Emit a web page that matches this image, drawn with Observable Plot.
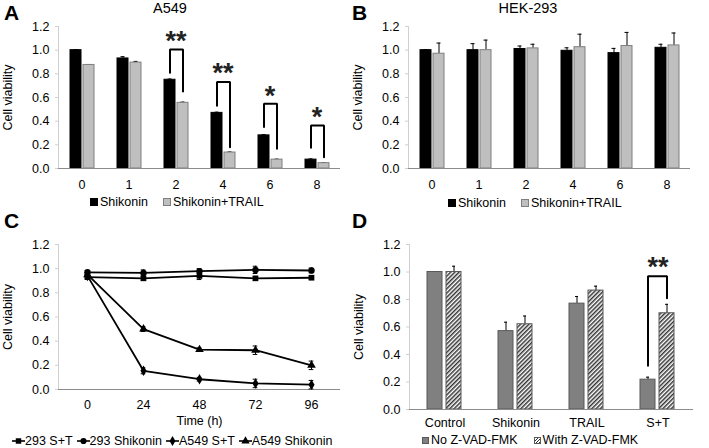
<!DOCTYPE html>
<html><head><meta charset="utf-8">
<script src="https://cdn.jsdelivr.net/npm/d3@7"></script>
<script src="https://cdn.jsdelivr.net/npm/@observablehq/plot@0.6"></script>
<style>
body{margin:0;background:#fff;font-family:"Liberation Sans",Arial,sans-serif;color:#000;}
#wrap{position:relative;width:709px;height:448px;overflow:hidden;background:#fff;}
.abs{position:absolute;line-height:1;white-space:nowrap;}
.letter{font-weight:bold;font-size:21px;}
.title{font-size:14.5px;}
.legend{font-size:12.5px;display:flex;align-items:center;line-height:1;}
.sw{display:inline-block;width:8px;height:8px;box-sizing:border-box;margin-right:2px;}
</style></head><body><div id="wrap"></div>
<script>
// ---------- data ----------
const yTicks = [0, 0.2, 0.4, 0.6, 0.8, 1.0, 1.2];
const doses = ["0", "1", "2", "4", "6", "8"];
const seriesAB = ["Shikonin", "Shikonin+TRAIL"];

const a549Shik = [1.00, 0.93, 0.75, 0.47, 0.28, 0.075];
const a549ShikErr = [0.004, 0.015, 0.006, 0.006, 0.006, 0.006];
const a549ST = [0.875, 0.895, 0.555, 0.135, 0.075, 0.045];
const a549STErr = [0.004, 0.01, 0.006, 0.005, 0.004, 0.004];

const sigDoses = ["2", "4", "6", "8"];
const sigLabels = ["**", "**", "*", "*"];
const sigTop = [1.005, 0.73, 0.547, 0.363];
const sigLeft = [0.81, 0.53, 0.35, 0.175];
const sigRight = [0.65, 0.18, 0.166, 0.096];
const sigStarY = [1.11, 0.835, 0.645, 0.467];

const hekShik = [1.00, 1.00, 1.01, 0.995, 0.975, 1.02];
const hekShikErr = [0.004, 0.055, 0.025, 0.025, 0.04, 0.03];
const hekST = [0.97, 1.00, 1.015, 1.025, 1.035, 1.04];
const hekSTErr = [0.09, 0.085, 0.035, 0.11, 0.115, 0.105];

const hours = [0, 24, 48, 72, 96];
const cSeries = ["293 S+T", "293 Shikonin", "A549 S+T", "A549 Shikonin"];
const cSymbols = ["square", "circle", "diamond", "triangle"];
const c293ST = [0.93, 0.92, 0.94, 0.92, 0.925];
const c293STErr = [0.015, 0.015, 0.03, 0.015, 0.015];
const c293Shik = [0.97, 0.965, 0.98, 0.99, 0.985];
const c293ShikErr = [0.015, 0.025, 0.02, 0.03, 0.02];
const cA549ST = [0.94, 0.155, 0.085, 0.05, 0.04];
const cA549STErr = [0.015, 0.025, 0.015, 0.035, 0.035];
const cA549Shik = [0.95, 0.50, 0.33, 0.325, 0.20];
const cA549ShikErr = [0.015, 0.02, 0.015, 0.035, 0.035];

const dCats = ["Control", "Shikonin", "TRAIL", "S+T"];
const dSeries = ["No Z-VAD-FMK", "With Z-VAD-FMK"];
const dNo = [1.00, 0.57, 0.77, 0.217];
const dNoErr = [0, 0.065, 0.052, 0.018];
const dWith = [1.00, 0.62, 0.865, 0.70];
const dWithErr = [0.042, 0.06, 0.032, 0.065];
const dSigCats = ["S+T"];
const dSigLabels = ["**"];
const dSigTop = [0.97];
const dSigLeft = [0.318];
const dSigRight = [0.81];
const dSigStarY = [1.065];

// ---------- helpers ----------
const wrap = document.getElementById("wrap");
function place(el, left, top) {
  const d = document.createElement("div");
  d.className = "abs"; d.style.left = left + "px"; d.style.top = top + "px";
  if (typeof el === "string") d.innerHTML = el; else d.appendChild(el);
  wrap.appendChild(d); return d;
}
const fmt = d3.format(".1f");
const plotStyle = {fontFamily: "Liberation Sans, Arial, sans-serif", fontSize: "12.5px", color: "#000", background: "transparent", overflow: "visible"};
function yAxis() {
  return Plot.axisY({ticks: yTicks, tickFormat: fmt, tickSize: 3, tickPadding: 6, stroke: "#d0d0d0", fill: "#000",
    label: "Cell viability", labelAnchor: "center", labelOffset: 55, labelArrow: "none"});
}

function barPanel(cfg) {
  const rows = [];
  cfg.series.forEach((s, si) => cfg.cats.forEach((c, ci) => rows.push({cat: c, s, v: cfg.vals[si][ci], e: cfg.errs[si][ci]})));
  const errRows = rows.filter(d => d.e > 0);
  const br = [], stars = [];
  (cfg.sig ? cfg.sig.cats : []).forEach((c, i) => {
    br.push({cat: c, s: cfg.series[0], y: cfg.sig.left[i]}, {cat: c, s: cfg.series[0], y: cfg.sig.top[i]},
            {cat: c, s: cfg.series[1], y: cfg.sig.top[i]}, {cat: c, s: cfg.series[1], y: cfg.sig.right[i]});
    stars.push({cat: c, y: cfg.sig.star[i], t: cfg.sig.labels[i]});
  });
  const fillOf = Object.fromEntries(cfg.series.map((s, i) => [s, cfg.fills[i]]));
  const strokeOf = Object.fromEntries(cfg.series.map((s, i) => [s, cfg.strokes[i]]));
  const capInset = cfg.capInset;
  return Plot.plot({
    width: cfg.width, height: cfg.height,
    marginLeft: 58, marginRight: cfg.mR, marginTop: 26, marginBottom: cfg.mB,
    style: plotStyle,
    fx: {domain: cfg.cats, padding: 0},
    x: {domain: cfg.series, paddingInner: cfg.pi, paddingOuter: cfg.po, axis: null},
    y: {domain: [0, 1.2]},
    color: {type: "identity"},
    marks: [
      Plot.frame({anchor: "left", stroke: "#d0d0d0", facetAnchor: "left"}),
      yAxis(),
      Plot.axisFx({anchor: "bottom", tickSize: 0, tickPadding: cfg.fxPad, label: null, fontSize: 12.5}),
      Plot.ruleX(errRows, {fx: "cat", x: "s", y1: "v", y2: d => d.v + d.e, stroke: "#000", strokeWidth: 1}),
      Plot.tickY(errRows, {fx: "cat", x: "s", y: d => d.v + d.e, stroke: "#000", strokeWidth: 1, insetLeft: capInset, insetRight: capInset}),
      Plot.barY(rows, {fx: "cat", x: "s", y: "v", fill: d => fillOf[d.s], stroke: d => strokeOf[d.s], strokeWidth: 1}),
      Plot.ruleY([0], {stroke: "#8c8c8c", strokeWidth: 1}),
      Plot.line(br, {fx: "cat", x: "s", y: "y", z: "cat", stroke: "#000", strokeWidth: 2, strokeLinejoin: "miter", curve: "linear"}),
      Plot.text(stars, {fx: "cat", y: "y", text: "t", fontSize: 27, fontWeight: "bold", fill: "#222", dy: 4, fontFamily: "Liberation Sans, Arial"})
    ]
  });
}

// ---------- Panel A ----------
const svgA = barPanel({
  cats: doses, series: seriesAB, vals: [a549Shik, a549ST], errs: [a549ShikErr, a549STErr],
  fills: ["#000000", "#bfbfbf"], strokes: ["#000000", "#7f7f7f"],
  width: 355, height: 195, mR: 15, mB: 27, pi: 0.17, po: 0.852, fxPad: 12, capInset: 3.5,
  sig: {cats: sigDoses, labels: sigLabels, top: sigTop, left: sigLeft, right: sigRight, star: sigStarY}
});
place(svgA, 0, 0);

// ---------- Panel B ----------
const svgB = barPanel({
  cats: doses, series: seriesAB, vals: [hekShik, hekST], errs: [hekShikErr, hekSTErr],
  fills: ["#000000", "#bfbfbf"], strokes: ["#000000", "#7f7f7f"],
  width: 355, height: 195, mR: 15, mB: 27, pi: 0.17, po: 0.852, fxPad: 12, capInset: 3.5
});
place(svgB, 350, 0);

// ---------- Panel C ----------
const cVals = [c293ST, c293Shik, cA549ST, cA549Shik];
const cErrs = [c293STErr, c293ShikErr, cA549STErr, cA549ShikErr];
const cRows = [];
cSeries.forEach((s, si) => hours.forEach((h, hi) => cRows.push({h, s, v: cVals[si][hi], e: cErrs[si][hi]})));
const svgC = Plot.plot({
  width: 355, height: 207, marginLeft: 58, marginRight: 15, marginTop: 26, marginBottom: 36,
  style: plotStyle,
  x: {type: "band", domain: hours, padding: 0},
  y: {domain: [0, 1.2]},
  symbol: {domain: cSeries, range: cSymbols},
  marks: [
    Plot.frame({anchor: "left", stroke: "#d0d0d0"}),
    yAxis(),
    Plot.axisX({tickSize: 0, tickPadding: 11, label: "Time (h)", labelAnchor: "center", labelOffset: 35, labelArrow: "none"}),
    Plot.ruleY([0], {stroke: "#8c8c8c"}),
    Plot.ruleX(cRows, {x: "h", y1: d => d.v - d.e, y2: d => d.v + d.e, stroke: "#000", strokeWidth: 1}),
    Plot.tickY(cRows, {x: "h", y: d => d.v + d.e, stroke: "#000", insetLeft: 25.7, insetRight: 25.7}),
    Plot.tickY(cRows, {x: "h", y: d => d.v - d.e, stroke: "#000", insetLeft: 25.7, insetRight: 25.7}),
    Plot.line(cRows, {x: "h", y: "v", z: "s", stroke: "#000", strokeWidth: 1.8}),
    Plot.dot(cRows, {x: "h", y: "v", symbol: "s", fill: "#000", stroke: "none", r: 3.2})
  ]
});
place(svgC, 0, 218);

// ---------- Panel D ----------
const svgD = barPanel({
  cats: dCats, series: dSeries, vals: [dNo, dWith], errs: [dNoErr, dWithErr],
  fills: ["#808080", "url(#hatchD)"], strokes: ["#595959", "#595959"],
  width: 355, height: 218, mR: 12, mB: 27, pi: 0.185, po: 0.874, fxPad: 9, capInset: 6,
  sig: {cats: dSigCats, labels: dSigLabels, top: dSigTop, left: dSigLeft, right: dSigRight, star: dSigStarY}
});
d3.select(svgD).insert("defs", ":first-child").html(
  '<pattern id="hatchD" patternUnits="userSpaceOnUse" width="3" height="3" patternTransform="rotate(45)">' +
  '<rect width="3" height="3" fill="#fff"/><line x1="0.75" y1="0" x2="0.75" y2="3" stroke="#333" stroke-width="1.5"/></pattern>');
place(svgD, 350, 218);

// ---------- letters & titles ----------
place('<span class="letter">A</span>', 4, 2);
place('<span class="letter">B</span>', 352, 2);
place('<span class="letter">C</span>', 4, 210);
place('<span class="letter">D</span>', 352, 210);
place('<div class="title" style="width:100px;text-align:center">A549</div>', 120, 1);
place('<div class="title" style="width:120px;text-align:center">HEK-293</div>', 468, 1);

// ---------- legends ----------
function barLegend(labels, swatchStyles, left, top, gap) {
  const html = labels.map((l, i) => `${i ? `<span style="display:inline-block;width:${gap}px"></span>` : ""}<span class="sw" style="${swatchStyles[i]}"></span><span>${l}</span>`).join("");
  place(`<div class="legend">${html}</div>`, left, top);
}
barLegend(seriesAB, ["background:#000", "background:#bfbfbf;border:1px solid #7f7f7f"], 90, 196, 15);
barLegend(seriesAB, ["background:#000", "background:#bfbfbf;border:1px solid #7f7f7f"], 448, 197, 15);
barLegend(dSeries, ["background:#808080;border:1px solid #595959;width:7px;height:7px",
  "background:repeating-linear-gradient(-45deg,#333 0 1px,#fff 1px 2.2px);border:1px solid #595959;width:7px;height:7px"], 422, 434, 16);

const symPaths = cSymbols.map(n => d3.symbol({square: d3.symbolSquare, circle: d3.symbolCircle, diamond: d3.symbolDiamond, triangle: d3.symbolTriangle}[n], 30)());
const cLegendHtml = cSeries.map((s, i) =>
  `${i ? '<span style="display:inline-block;width:4px"></span>' : ""}<svg width="13" height="8" style="overflow:visible"><line x1="0" y1="4" x2="13" y2="4" stroke="#000" stroke-width="1.6"/><path d="${symPaths[i]}" transform="translate(6.5,4)" fill="#000"/></svg><span>${s}</span>`).join("");
place(`<div class="legend">${cLegendHtml}</div>`, 12, 435);
</script></body></html>
